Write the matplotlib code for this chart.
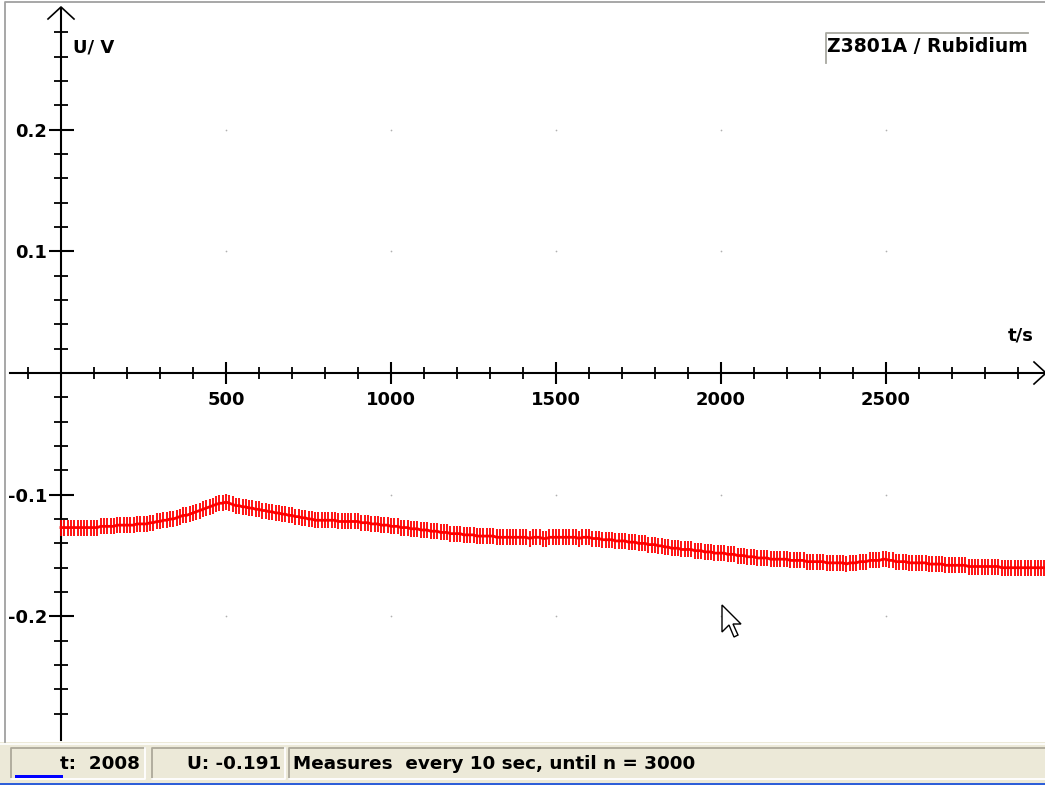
import numpy as np
import matplotlib
matplotlib.use("Agg")
import matplotlib.pyplot as plt
from matplotlib.lines import Line2D
from matplotlib.patches import Rectangle, Polygon
from matplotlib.ticker import FixedLocator

# ---------------- data ----------------
U_volts = [
    -0.127, -0.127, -0.127, -0.127, -0.127, -0.127, -0.127, -0.127, -0.127, -0.127,
    -0.127, -0.127, -0.126, -0.126, -0.126, -0.126, -0.126, -0.125, -0.125, -0.125,
    -0.125, -0.125, -0.125, -0.124, -0.124, -0.124, -0.124, -0.123, -0.123, -0.122,
    -0.122, -0.121, -0.121, -0.120, -0.120, -0.119, -0.118, -0.117, -0.117, -0.116,
    -0.115, -0.114, -0.113, -0.112, -0.111, -0.110, -0.109, -0.108, -0.107, -0.107,
    -0.106, -0.107, -0.108, -0.109, -0.109, -0.110, -0.110, -0.111, -0.111, -0.112,
    -0.112, -0.113, -0.113, -0.114, -0.114, -0.115, -0.115, -0.116, -0.116, -0.117,
    -0.117, -0.118, -0.118, -0.119, -0.119, -0.120, -0.120, -0.121, -0.121, -0.121,
    -0.121, -0.121, -0.121, -0.121, -0.122, -0.122, -0.122, -0.122, -0.122, -0.122,
    -0.122, -0.123, -0.123, -0.123, -0.124, -0.124, -0.124, -0.125, -0.125, -0.125,
    -0.126, -0.126, -0.126, -0.127, -0.127, -0.127, -0.128, -0.128, -0.128, -0.129,
    -0.129, -0.129, -0.130, -0.130, -0.130, -0.131, -0.131, -0.131, -0.132, -0.132,
    -0.132, -0.132, -0.133, -0.133, -0.133, -0.133, -0.134, -0.134, -0.134, -0.134,
    -0.134, -0.134, -0.135, -0.135, -0.135, -0.135, -0.135, -0.135, -0.135, -0.135,
    -0.135, -0.135, -0.136, -0.135, -0.135, -0.135, -0.136, -0.136, -0.135, -0.135,
    -0.135, -0.135, -0.135, -0.135, -0.135, -0.135, -0.135, -0.136, -0.135, -0.135,
    -0.135, -0.136, -0.136, -0.136, -0.137, -0.137, -0.137, -0.137, -0.138, -0.138,
    -0.138, -0.138, -0.139, -0.139, -0.139, -0.140, -0.140, -0.140, -0.141, -0.141,
    -0.141, -0.142, -0.142, -0.143, -0.143, -0.144, -0.144, -0.144, -0.145, -0.145,
    -0.145, -0.145, -0.146, -0.146, -0.146, -0.147, -0.147, -0.147, -0.148, -0.148,
    -0.148, -0.148, -0.149, -0.149, -0.149, -0.150, -0.150, -0.150, -0.151, -0.151,
    -0.151, -0.152, -0.152, -0.152, -0.152, -0.153, -0.153, -0.153, -0.153, -0.153,
    -0.153, -0.154, -0.154, -0.154, -0.154, -0.154, -0.155, -0.155, -0.155, -0.155,
    -0.155, -0.155, -0.156, -0.156, -0.156, -0.156, -0.156, -0.156, -0.157, -0.156,
    -0.156, -0.156, -0.155, -0.155, -0.155, -0.154, -0.154, -0.154, -0.154, -0.153,
    -0.153, -0.154, -0.154, -0.155, -0.155, -0.155, -0.155, -0.156, -0.156, -0.156,
    -0.156, -0.156, -0.156, -0.157, -0.157, -0.157, -0.157, -0.157, -0.158, -0.158,
    -0.158, -0.158, -0.158, -0.158, -0.158, -0.159, -0.159, -0.159, -0.159, -0.159,
    -0.159, -0.159, -0.159, -0.159, -0.159, -0.160, -0.160, -0.160, -0.160, -0.160,
    -0.160, -0.160, -0.160, -0.160, -0.160, -0.160, -0.160, -0.160, -0.160,
]
sample_interval_s = 10
t_seconds = np.arange(len(U_volts)) * sample_interval_s

x_major_ticks = [500, 1000, 1500, 2000, 2500]
x_major_labels = ["500", "1000", "1500", "2000", "2500"]
x_minor_ticks = [v for v in range(-100, 3000, 100) if v not in (0, 500, 1000, 1500, 2000, 2500)]
y_major_ticks = [-0.2, -0.1, 0.1, 0.2]
y_major_labels = ["-0.2", "-0.1", "0.1", "0.2"]
y_minor_ticks = [round(v, 2) for v in np.arange(-0.28, 0.281, 0.02)
                 if round(v, 2) not in (0.0, 0.1, 0.2, -0.1, -0.2)]

y_label = "U/ V"
x_label = "t/s"
legend_text = "Z3801A / Rubidium"
status_t = "t:  2008"
status_u = "U: -0.191"
status_msg = "Measures  every 10 sec, until n = 3000"

# ---------------- figure ----------------
W, H = 1045, 785
fig = plt.figure(figsize=(W / 100, H / 100), dpi=100)
fig.patch.set_facecolor("white")

def fx(px):
    return px / W

def fy(py):
    return 1 - py / H

# plot area in pixels
L, R, T, B = 6, 1045, 8, 742
ax = fig.add_axes([fx(L), fy(B), (R - L) / W, (B - T) / H])
x0_px, sx = 61, 0.33          # pixel of t=0, pixels per second
y0_px, sy = 373, 1217         # pixel of U=0, pixels per volt
ax.set_xlim((L - x0_px) / sx, (R - x0_px) / sx)
ax.set_ylim((y0_px - B) / sy, (y0_px - T) / sy)
ax.set_facecolor("white")

for s in ("top", "right"):
    ax.spines[s].set_visible(False)
ax.spines["left"].set_position(("data", 0))
ax.spines["bottom"].set_position(("data", 0))
ax.spines["left"].set_bounds(ax.get_ylim()[0] + 0.002, ax.get_ylim()[1])
ax.spines["bottom"].set_bounds(-155, ax.get_xlim()[1])
for s in ("left", "bottom"):
    ax.spines[s].set_color("black")
    ax.spines[s].set_linewidth(1.5)

font = dict(family="DejaVu Sans", weight="bold")

ax.xaxis.set_major_locator(FixedLocator(x_major_ticks))
ax.xaxis.set_minor_locator(FixedLocator(x_minor_ticks))
ax.set_xticklabels(x_major_labels, fontsize=13, **font)
ax.yaxis.set_major_locator(FixedLocator(y_major_ticks))
ax.yaxis.set_minor_locator(FixedLocator(y_minor_ticks))
ax.set_yticklabels(y_major_labels, fontsize=13, **font)

ax.tick_params(axis="x", which="major", direction="inout", length=16, width=1.5, pad=5, colors="black")
ax.tick_params(axis="x", which="minor", direction="inout", length=8, width=1.3)
ax.tick_params(axis="y", which="major", direction="inout", length=18, width=1.5, pad=1, colors="black")
ax.tick_params(axis="y", which="minor", direction="inout", length=10, width=1.3)

# grid dots at major intersections
gx, gy = np.meshgrid(x_major_ticks, y_major_ticks)
ax.scatter(gx.ravel(), gy.ravel(), s=1.5, color="#b0b0b0", zorder=1, linewidths=0)

# data: red '+' markers every 10 s
ax.plot(t_seconds, U_volts, color="#ff0000", linewidth=2.0, marker="|",
        markersize=11.5, markeredgewidth=1.3, zorder=3, clip_on=True)

# axis arrow heads
fig.add_artist(Line2D([fx(48), fx(61), fx(74)], [fy(19), fy(7), fy(19)], color="black", lw=1.2))
fig.add_artist(Line2D([fx(1034), fx(1046), fx(1034)], [fy(362), fy(373), fy(384)], color="black", lw=1.2))

# axis labels
fig.text(fx(73), fy(47), y_label, fontsize=13, va="center", ha="left", **font)
fig.text(fx(1008), fy(336), x_label, fontsize=13, va="center", ha="left", **font)

# legend box
fig.add_artist(Line2D([fx(826), fx(826), fx(1028)], [fy(63), fy(33), fy(33)], color="#a8a8a0", lw=1.3))
fig.text(fx(827), fy(47), legend_text, fontsize=13.5, va="center", ha="left", **font)

# plot border (top/left)
fig.add_artist(Line2D([fx(5), fx(5), fx(1045)], [fy(742), fy(1.5), fy(1.5)], color="#a0a0a0", lw=1.3))

# mouse cursor
cur = np.array([(0, 0), (0, 27), (7, 20), (12, 32), (16, 30), (11, 19), (19, 19)], dtype=float)
cur[:, 0] += 722
cur[:, 1] += 605
fig.add_artist(Polygon([(fx(a), fy(b)) for a, b in cur], closed=True,
                       facecolor="white", edgecolor="black", lw=1.0, transform=fig.transFigure))

# status bar
fig.add_artist(Rectangle((0, 0), 1, fy(742), transform=fig.transFigure,
                         facecolor="#ece9d8", edgecolor="none"))
fig.add_artist(Line2D([0, 1], [fy(744), fy(744)], color="white", lw=1.2))
fig.add_artist(Rectangle((0, 0), 1, fy(783), transform=fig.transFigure,
                         facecolor="#2f5fd8", edgecolor="none"))

def panel(x1, x2, y1=748, y2=779):
    fig.add_artist(Line2D([fx(x1), fx(x1), fx(x2)], [fy(y2), fy(y1), fy(y1)], color="#aca899", lw=1.3))
    fig.add_artist(Line2D([fx(x1), fx(x2), fx(x2)], [fy(y2), fy(y2), fy(y1)], color="white", lw=1.3))

panel(11, 145)
panel(152, 285)
panel(289, 1060)

fig.add_artist(Rectangle((fx(15), fy(778)), fx(63) - fx(15), fy(775) - fy(778),
                         transform=fig.transFigure, facecolor="#0000ff", edgecolor="none"))

sfont = dict(family="DejaVu Sans", weight="bold", fontsize=13.2)
fig.text(fx(140), fy(764), status_t, ha="right", va="center", **sfont)
fig.text(fx(281), fy(764), status_u, ha="right", va="center", **sfont)
fig.text(fx(293), fy(764), status_msg, ha="left", va="center", **sfont)

fig.savefig("out.png", dpi=100)
